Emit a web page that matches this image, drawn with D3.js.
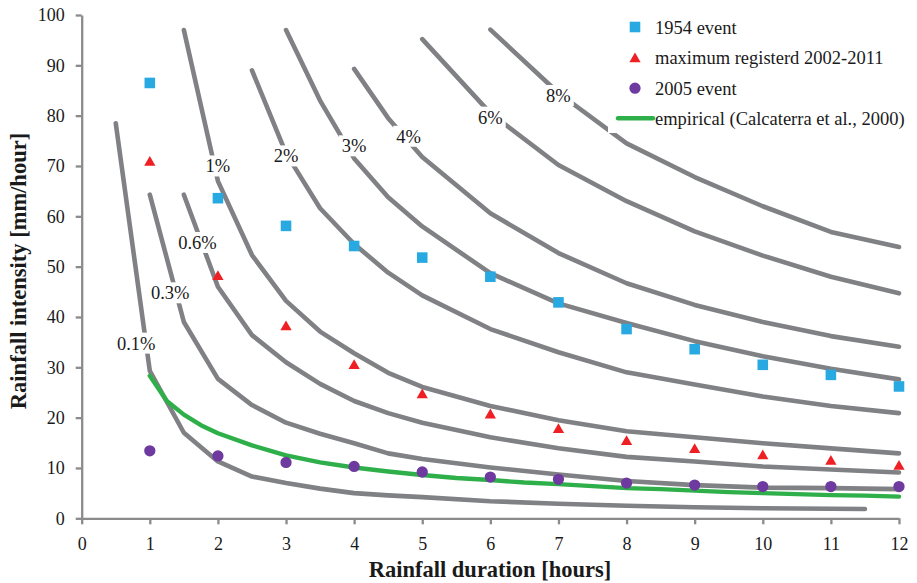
<!DOCTYPE html>
<html>
<head>
<meta charset="utf-8">
<script src="https://cdn.jsdelivr.net/npm/d3@7"></script>
<style>
  body { margin: 0; background: #fff; }
  svg text { font-family: "Liberation Serif", Tinos, "Times New Roman", "DejaVu Serif", serif; fill: #1a1a1a; }
</style>
</head>
<body>
<div id="chart"></div>
<script>
// duration grid shared by the probability curves (hours)
const durations = [0.5, 1, 1.5, 2, 2.5, 3, 3.5, 4, 4.5, 5, 6, 7, 8, 9, 10, 11, 11.5, 12]

// intensity [mm/hour] of each curve, null where the curve is not drawn
const p01 = [78.5, 29.3, 17.0, 11.3, 8.3, 7.0, 5.9, 5.0, 4.55, 4.2, 3.4, 2.9, 2.5, 2.2, 2.0, 1.9, 1.85, null]
const p03 = [null, 64.3, 39.0, 27.7, 22.5, 19.0, 16.8, 14.9, 12.9, 11.8, 10.1, 8.7, 7.4, 6.6, 6.1, 6.0, null, 5.8]
const p06 = [null, null, 64.3, 46.0, 36.4, 31.0, 26.7, 23.3, 20.9, 19.0, 16.1, 13.9, 12.2, 11.3, 10.3, 9.7, null, 9.1]
const p1 = [null, null, 97.0, 67.0, 52.3, 43.2, 37.1, 32.8, 28.9, 26.1, 22.3, 19.5, 17.3, 16.1, 14.9, 13.9, null, 12.9]
const p2 = [null, null, null, null, 89.0, 72.5, 61.6, 54.5, 48.8, 44.3, 37.6, 33.0, 29.0, 26.6, 24.2, 22.3, null, 20.9]
const p3 = [null, null, null, null, null, 97.0, 83.0, 71.5, 63.8, 58.0, 48.7, 42.7, 38.8, 35.2, 32.2, 29.7, null, 27.6]
const p4 = [null, null, null, null, null, null, null, 89.3, 79.5, 71.8, 60.6, 52.7, 46.7, 42.4, 39.0, 36.2, null, 34.1]
const p6 = [null, null, null, null, null, null, null, null, null, 95.2, 80.5, 70.2, 63.0, 57.0, 52.2, 48.0, null, 44.7]
const p8 = [null, null, null, null, null, null, null, null, null, null, 97.1, 84.5, 74.5, 67.8, 62.0, 56.9, null, 53.9]

const curveLabels = ["0.1%", "0.3%", "0.6%", "1%", "2%", "3%", "4%", "6%", "8%"]
// where each label sits, in [hours, mm/hour]
const labelSpots = [[0.8, 34.8], [1.3, 44.8], [1.7, 54.8], [2.0, 70.0], [3.0, 72.0], [4.0, 74.0], [4.8, 75.9], [6.0, 79.7], [7.0, 84.0]]

// empirical curve (Calcaterra et al., 2000)
const empDur = [1, 1.25, 1.5, 1.75, 2, 2.5, 3, 3.5, 4, 4.5, 5, 5.5, 6, 6.5, 7, 7.5, 8, 8.5, 9, 9.5, 10, 10.5, 11, 11.5, 12]
const empVal = [28.3, 23.3, 20.6, 18.5, 16.9, 14.5, 12.5, 11.1, 10.1, 9.3, 8.6, 8.0, 7.6, 7.1, 6.8, 6.4, 6.0, 5.8, 5.5, 5.2, 5.0, 4.8, 4.6, 4.5, 4.3]

// observed events
const eventDur = [1, 2, 3, 4, 5, 6, 7, 8, 9, 10, 11, 12]
const event1954 = [86.5, 63.6, 58.1, 54.1, 51.8, 48.0, 42.9, 37.6, 33.6, 30.5, 28.5, 26.2]
const maxReg = [70.7, 48.0, 38.0, 30.3, 24.5, 20.5, 17.6, 15.2, 13.6, 12.4, 11.3, 10.3]
const event2005 = [13.4, 12.4, 11.1, 10.3, 9.2, 8.2, 7.75, 7.0, 6.6, 6.3, 6.3, 6.3]

const xTicks = [0, 1, 2, 3, 4, 5, 6, 7, 8, 9, 10, 11, 12]
const yTicks = [0, 10, 20, 30, 40, 50, 60, 70, 80, 90, 100]
const legendNames = ["1954 event", "maximum registerd 2002-2011", "2005 event", "empirical (Calcaterra et al., 2000)"]

const width = 917
const height = 583
const serif = "'Liberation Serif', Tinos, 'Times New Roman', 'DejaVu Serif', serif"
const grey = "#808184"
const green = "#2eaf4a"
const blue = "#29a9e1"
const red = "#ee2024"
const purple = "#6e3a9f"

let svg = d3.select("#chart")
    .append("svg")
    .attr("width", width)
    .attr("height", height)
    .attr("font-family", serif)

let x = d3.scaleLinear().domain([0, 12]).range([81.7, 899])
let y = d3.scaleLinear().domain([0, 100]).range([518.3, 15])

let line = d3.line().x(d => x(d[0])).y(d => y(d[1]))

let allCurves = [p01, p03, p06, p1, p2, p3, p4, p6, p8]

allCurves.forEach(vals => {
    let pts = durations.map((t, i) => [t, vals[i]]).filter(p => p[1] != null)
    svg.append("path")
        .datum(pts)
        .attr("d", line)
        .attr("fill", "none")
        .attr("stroke", grey)
        .attr("stroke-width", 4.6)
        .attr("stroke-linejoin", "round")
        .attr("stroke-linecap", "round")
})

// labels cut the curves with a white box
curveLabels.forEach((lab, i) => {
    let g = svg.append("g")
    let t = g.append("text")
        .attr("x", x(labelSpots[i][0]))
        .attr("y", y(labelSpots[i][1]))
        .attr("dy", "0.35em")
        .attr("text-anchor", "middle")
        .attr("font-family", serif)
        .attr("font-size", 18.5)
        .text(lab)
    let bb = t.node().getBBox()
    g.insert("rect", "text")
        .attr("x", bb.x - 3)
        .attr("y", bb.y - 1)
        .attr("width", bb.width + 6)
        .attr("height", bb.height + 1)
        .attr("fill", "#fff")
})

svg.append("path")
    .datum(empDur.map((t, i) => [t, empVal[i]]))
    .attr("d", line)
    .attr("fill", "none")
    .attr("stroke", green)
    .attr("stroke-width", 4.4)
    .attr("stroke-linejoin", "round")
    .attr("stroke-linecap", "round")

let square = d3.symbol().type(d3.symbolSquare).size(112)
let triangle = d3.symbol().type(d3.symbolTriangle).size(55)
let circle = d3.symbol().type(d3.symbolCircle).size(100)

function drawPoints(vals, sym, colour) {
    svg.append("g")
        .selectAll("path")
        .data(eventDur.map((t, i) => [t, vals[i]]))
        .join("path")
        .attr("d", sym)
        .attr("fill", colour)
        .attr("transform", d => "translate(" + x(d[0]) + "," + y(d[1]) + ")")
}
drawPoints(event1954, square, blue)
drawPoints(maxReg, triangle, red)
drawPoints(event2005, circle, purple)

// legend
let legend = svg.append("g")
legend.append("rect")
    .attr("x", 608)
    .attr("y", 6)
    .attr("width", 306)
    .attr("height", 127)
    .attr("fill", "#fff")

let syms = [square, triangle, circle]
let cols = [blue, red, purple]
legendNames.forEach((name, i) => {
    let ly = 27 + i * 30.6
    if (i < 3) {
        legend.append("path")
            .attr("d", syms[i])
            .attr("fill", cols[i])
            .attr("transform", "translate(635," + (ly + (i == 1 ? 1.5 : 0)) + ")")
    } else {
        legend.append("line")
            .attr("x1", 618).attr("x2", 653)
            .attr("y1", ly - 0.5).attr("y2", ly - 0.5)
            .attr("stroke", green)
            .attr("stroke-width", 4.4)
            .attr("stroke-linecap", "round")
    }
    legend.append("text")
        .attr("x", 655)
        .attr("y", ly + 6.5)
        .attr("font-family", serif)
        .attr("font-size", 18.5)
        .text(name)
})

// axes
let xAxis = svg.append("g")
    .attr("transform", "translate(0," + y(0) + ")")
    .call(d3.axisBottom(x).tickValues(xTicks).tickSize(6).tickSizeOuter(0).tickPadding(13))
let yAxis = svg.append("g")
    .attr("transform", "translate(" + x(0) + ",0)")
    .call(d3.axisLeft(y).tickValues(yTicks).tickSize(6).tickSizeOuter(0).tickPadding(11))

;[xAxis, yAxis].forEach(ax => {
    ax.attr("font-family", serif)
    ax.selectAll("path, line").attr("stroke", "#8b8b8b").attr("stroke-width", 2.3)
    ax.selectAll("text")
        .attr("font-family", serif)
        .attr("font-size", 18)
        .attr("fill", "#1a1a1a")
})

svg.append("text")
    .attr("x", 490)
    .attr("y", 577)
    .attr("text-anchor", "middle")
    .attr("font-family", serif)
    .attr("font-size", 22.5)
    .attr("font-weight", "bold")
    .text("Rainfall duration [hours]")

svg.append("text")
    .attr("transform", "translate(26,271) rotate(-90)")
    .attr("text-anchor", "middle")
    .attr("font-family", serif)
    .attr("font-size", 22.5)
    .attr("font-weight", "bold")
    .text("Rainfall intensity [mm/hour]")
</script>
</body>
</html>
